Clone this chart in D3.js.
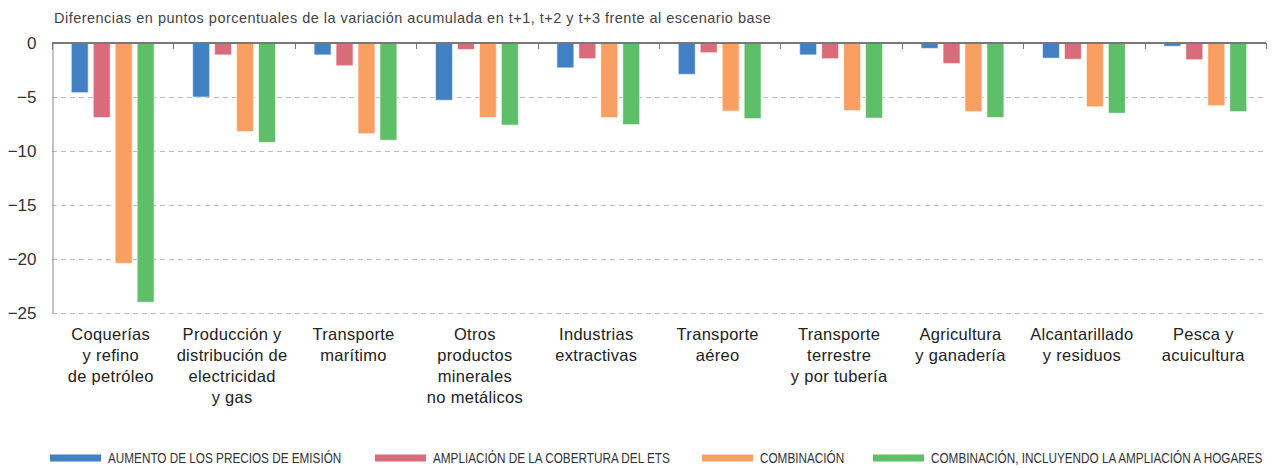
<!DOCTYPE html>
<html lang="es">
  <head>
    <meta charset="utf-8">
    <title>Diferencias en puntos porcentuales</title>
    <script src="https://d3js.org/d3.v7.min.js"></script>
    <style>
      body { margin: 0; background: #fff; }
      text { font-family: "Liberation Sans", Arial, sans-serif; }
    </style>
  </head>
  <body>
  <div id="chart"></div>
  <script>

  // data
  var sectors = [
    ["Coquerías", "y refino", "de petróleo"],
    ["Producción y", "distribución de", "electricidad", "y gas"],
    ["Transporte", "marítimo"],
    ["Otros", "productos", "minerales", "no metálicos"],
    ["Industrias", "extractivas"],
    ["Transporte", "aéreo"],
    ["Transporte", "terrestre", "y por tubería"],
    ["Agricultura", "y ganadería"],
    ["Alcantarillado", "y residuos"],
    ["Pesca y", "acuicultura"]
  ];
  var seriesNames = [
    "AUMENTO DE LOS PRECIOS DE EMISIÓN",
    "AMPLIACIÓN DE LA COBERTURA DEL ETS",
    "COMBINACIÓN",
    "COMBINACIÓN, INCLUYENDO LA AMPLIACIÓN A HOGARES"
  ];
  var precios    = [-4.6, -5.0, -1.1, -5.3, -2.3, -2.9, -1.1, -0.5, -1.4, -0.3];
  var cobertura  = [-6.9, -1.1, -2.1, -0.6, -1.45, -0.9, -1.45, -1.9, -1.5, -1.55];
  var combinacion = [-20.4, -8.2, -8.4, -6.9, -6.9, -6.3, -6.25, -6.35, -5.9, -5.8];
  var hogares    = [-24.0, -9.2, -9.0, -7.6, -7.55, -7.0, -6.95, -6.9, -6.5, -6.35];
  var yTicks = [0, -5, -10, -15, -20, -25];
  var colors = ["#4180c3", "#d96c7a", "#f99f61", "#5fbe68"];
  var title = "Diferencias en puntos porcentuales de la variación acumulada en t+1, t+2 y t+3 frente al escenario base";

  var seriesValues = [precios, cobertura, combinacion, hogares];

  var w = 1274;
  var h = 468;
  var margin = {top: 43, right: 8, left: 52};
  var plotBottom = 313;

  var svg = d3.select("#chart")
    .append("svg")
    .attr("width", w)
    .attr("height", h);

  var x0 = d3.scaleBand()
    .domain(d3.range(sectors.length))
    .range([margin.left, w - margin.right])
    .padding(0);

  var x1 = d3.scaleBand()
    .domain(d3.range(seriesNames.length))
    .range([0, x0.bandwidth()])
    .paddingInner(0.23)
    .paddingOuter(0.88);

  var y = d3.scaleLinear()
    .domain([0, -25])
    .range([margin.top, plotBottom]);

  // title
  svg.append("text")
    .attr("x", 54)
    .attr("y", 23)
    .attr("font-size", 14.5)
    .attr("letter-spacing", 0.48)
    .attr("fill", "#444")
    .text(title);

  // gridlines
  svg.append("g")
    .selectAll("line")
    .data(yTicks.filter(d => d !== 0))
    .enter().append("line")
    .attr("x1", margin.left)
    .attr("x2", w - margin.right)
    .attr("y1", d => Math.round(y(d)) + 0.5)
    .attr("y2", d => Math.round(y(d)) + 0.5)
    .attr("stroke", "#bdbdbd")
    .attr("stroke-dasharray", "5,4");

  // y axis
  var yAxis = d3.axisLeft(y)
    .tickValues(yTicks)
    .tickSize(0)
    .tickPadding(16)
    .tickFormat(d3.format("d"));

  var gy = svg.append("g")
    .attr("transform", `translate(${margin.left + 0.5}, 0)`)
    .call(yAxis);
  gy.select(".domain").attr("stroke", "#888");
  gy.selectAll("text")
    .attr("font-size", 17)
    .attr("fill", "#333")
    .attr("font-family", "'Liberation Sans', Arial, sans-serif");

  // bars
  var groups = svg.append("g")
    .selectAll("g")
    .data(sectors)
    .enter().append("g")
    .attr("transform", (d, i) => `translate(${x0(i)}, 0)`);

  groups.selectAll("rect")
    .data((d, i) => seriesValues.map((vals, s) => ({s: s, v: vals[i]})))
    .enter().append("rect")
    .attr("x", d => x1(d.s))
    .attr("y", y(0))
    .attr("width", x1.bandwidth())
    .attr("height", d => y(d.v) - y(0))
    .attr("fill", d => colors[d.s])
    .attr("stroke", "#fff")
    .attr("stroke-opacity", 0.55)
    .attr("stroke-width", 1);

  // zero axis with category ticks
  var gx = svg.append("g");
  gx.append("line")
    .attr("x1", margin.left)
    .attr("x2", w - margin.right)
    .attr("y1", y(0))
    .attr("y2", y(0))
    .attr("stroke", "#777")
    .attr("stroke-width", 2);
  gx.selectAll(".tick")
    .data(d3.range(sectors.length + 1))
    .enter().append("line")
    .attr("class", "tick")
    .attr("x1", i => Math.round(margin.left + i * x0.step()) + 0.5)
    .attr("x2", i => Math.round(margin.left + i * x0.step()) + 0.5)
    .attr("y1", y(0))
    .attr("y2", y(0) + 6)
    .attr("stroke", "#777");

  // category labels
  var labels = svg.append("g")
    .selectAll("text")
    .data(sectors)
    .enter().append("text")
    .attr("text-anchor", "middle")
    .attr("font-size", 16.5)
    .attr("letter-spacing", 0.3)
    .attr("fill", "#222")
    .attr("transform", (d, i) => `translate(${x0(i) + x0.bandwidth() / 2 - 2}, 340)`);

  labels.selectAll("tspan")
    .data(d => d)
    .enter().append("tspan")
    .attr("x", 0)
    .attr("y", (d, j) => j * 21)
    .text(d => d);

  // legend
  var legendX = [50, 375, 702, 873];
  var legend = svg.append("g")
    .selectAll("g")
    .data(seriesNames)
    .enter().append("g")
    .attr("transform", (d, i) => `translate(${legendX[i]}, 458)`);

  legend.append("rect")
    .attr("x", 0)
    .attr("y", -3.5)
    .attr("width", 51)
    .attr("height", 7)
    .attr("fill", (d, i) => colors[i]);

  // condensed type: squeeze the regular face horizontally
  legend.append("text")
    .attr("transform", "translate(58, 5) scale(0.84, 1)")
    .attr("font-size", 14)
    .attr("fill", "#333")
    .text(d => d);

  </script>
  </body>
</html>
